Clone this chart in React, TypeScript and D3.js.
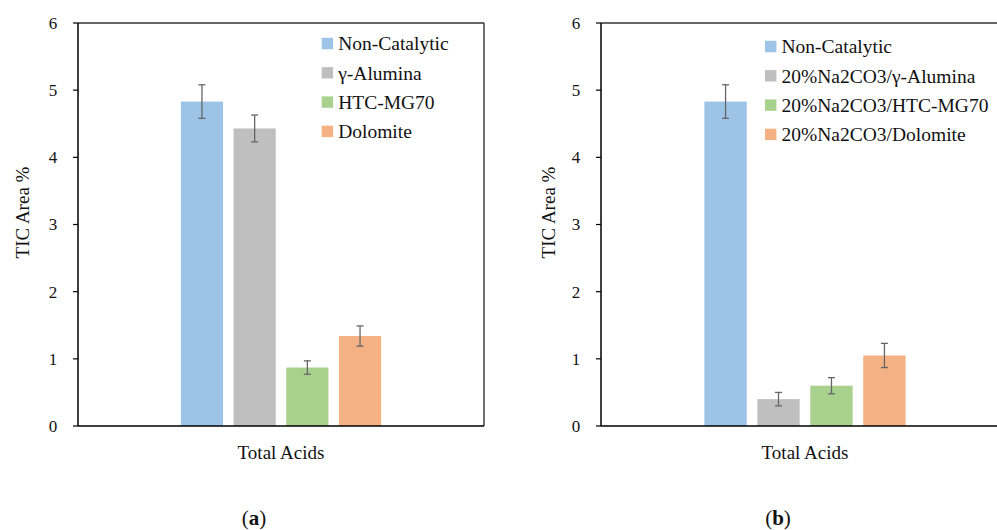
import React from "react";
import * as d3 from "d3";

const categories = ["Total Acids"];
const seriesA = ["Non-Catalytic", "γ-Alumina", "HTC-MG70", "Dolomite"];
const valuesA = [4.83, 4.43, 0.87, 1.34];
const errorsA = [0.25, 0.2, 0.1, 0.15];
const seriesB = ["Non-Catalytic", "20%Na2CO3/γ-Alumina", "20%Na2CO3/HTC-MG70", "20%Na2CO3/Dolomite"];
const valuesB = [4.83, 0.4, 0.6, 1.05];
const errorsB = [0.25, 0.1, 0.12, 0.18];
const yTicks = [0, 1, 2, 3, 4, 5, 6];
const colors = ["#9DC3E6", "#BFBFBF", "#A9D18E", "#F4B183"];

const FONT = "Liberation Serif, serif";

type PanelProps = {
  x0: number; x1: number; yTop: number; yBot: number;
  series: string[]; values: number[]; errors: number[];
  legendX: number; legendY: number; caption: string; captionX: number;
  yLabelX: number; drawRight: boolean;
};

function Panel(p: PanelProps) {
  const y = d3.scaleLinear().domain([0, 6]).range([p.yBot, p.yTop]);
  const xo = d3.scaleBand().domain(categories).range([p.x0, p.x1]).paddingOuter(0.463).paddingInner(0);
  const xi = d3.scaleBand().domain(p.series).range([0, xo.bandwidth()]).paddingInner(0.2).paddingOuter(0.1);
  const cat = categories[0];
  const cx = (xo(cat) as number) + xo.bandwidth() / 2;
  return (
    <g>
      <line x1={p.x0} x2={p.x1} y1={p.yTop} y2={p.yTop} stroke="#333" strokeWidth={1.4} />
      {p.drawRight && <line x1={p.x1} x2={p.x1} y1={p.yTop} y2={p.yBot} stroke="#333" strokeWidth={1.4} />}
      {p.series.map((s, i) => {
        const bx = (xo(cat) as number) + (xi(s) as number);
        const bw = xi.bandwidth();
        const v = p.values[i];
        const e = p.errors[i];
        const mx = bx + bw / 2;
        return (
          <g key={s}>
            <rect x={bx} y={y(v)} width={bw} height={y(0) - y(v)} fill={colors[i]} />
            <line x1={mx} x2={mx} y1={y(v + e)} y2={y(v - e)} stroke="#666" strokeWidth={1.3} />
            <line x1={mx - 3.5} x2={mx + 3.5} y1={y(v + e)} y2={y(v + e)} stroke="#666" strokeWidth={1.3} />
            <line x1={mx - 3.5} x2={mx + 3.5} y1={y(v - e)} y2={y(v - e)} stroke="#666" strokeWidth={1.3} />
          </g>
        );
      })}
      <line x1={p.x0} x2={p.x0} y1={p.yTop} y2={p.yBot} stroke="#000" strokeWidth={1.5} />
      <line x1={p.x0} x2={p.x1} y1={p.yBot} y2={p.yBot} stroke="#000" strokeWidth={1.5} />
      {yTicks.map((t) => (
        <g key={t}>
          <line x1={p.x0 - 5} x2={p.x0} y1={y(t)} y2={y(t)} stroke="#000" strokeWidth={1.2} />
          <text x={p.x0 - 25} y={y(t)} dy="0.35em" textAnchor="middle" fontFamily={FONT} fontSize={17} fill="#111">{t}</text>
        </g>
      ))}
      <text x={cx} y={p.yBot + 33} textAnchor="middle" fontFamily={FONT} fontSize={19} fill="#111">{cat}</text>
      <text transform={`translate(${p.yLabelX},${(p.yTop + p.yBot) / 2 - 12}) rotate(-90)`} dy="0.35em" textAnchor="middle" fontFamily={FONT} fontSize={19} fill="#111">TIC Area %</text>
      {p.series.map((s, i) => (
        <g key={"lg" + s}>
          <rect x={p.legendX} y={p.legendY + i * 29.3 - 5.7} width={11.4} height={11.4} fill={colors[i]} />
          <text x={p.legendX + 16.5} y={p.legendY + i * 29.3} dy="0.35em" fontFamily={FONT} fontSize={19.5} fill="#111">{s}</text>
        </g>
      ))}
      <text x={p.captionX} y={525} textAnchor="middle" fontFamily={FONT} fontSize={21} fill="#111">
        (<tspan fontWeight="bold">{p.caption}</tspan>)
      </text>
    </g>
  );
}

export default function App() {
  return (
    <svg width={997} height={530} style={{ position: "absolute", left: 0, top: 0, background: "#fff" }}>
      <rect x={0} y={0} width={997} height={530} fill="#fff" />
      <Panel x0={78} x1={484} yTop={23} yBot={426} series={seriesA} values={valuesA} errors={errorsA}
        legendX={321.7} legendY={43.5} caption="a" captionX={254} yLabelX={22} drawRight={true} />
      <Panel x0={601} x1={1009} yTop={23} yBot={426} series={seriesB} values={valuesB} errors={errorsB}
        legendX={765} legendY={46.5} caption="b" captionX={778} yLabelX={548} drawRight={false} />
    </svg>
  );
}
